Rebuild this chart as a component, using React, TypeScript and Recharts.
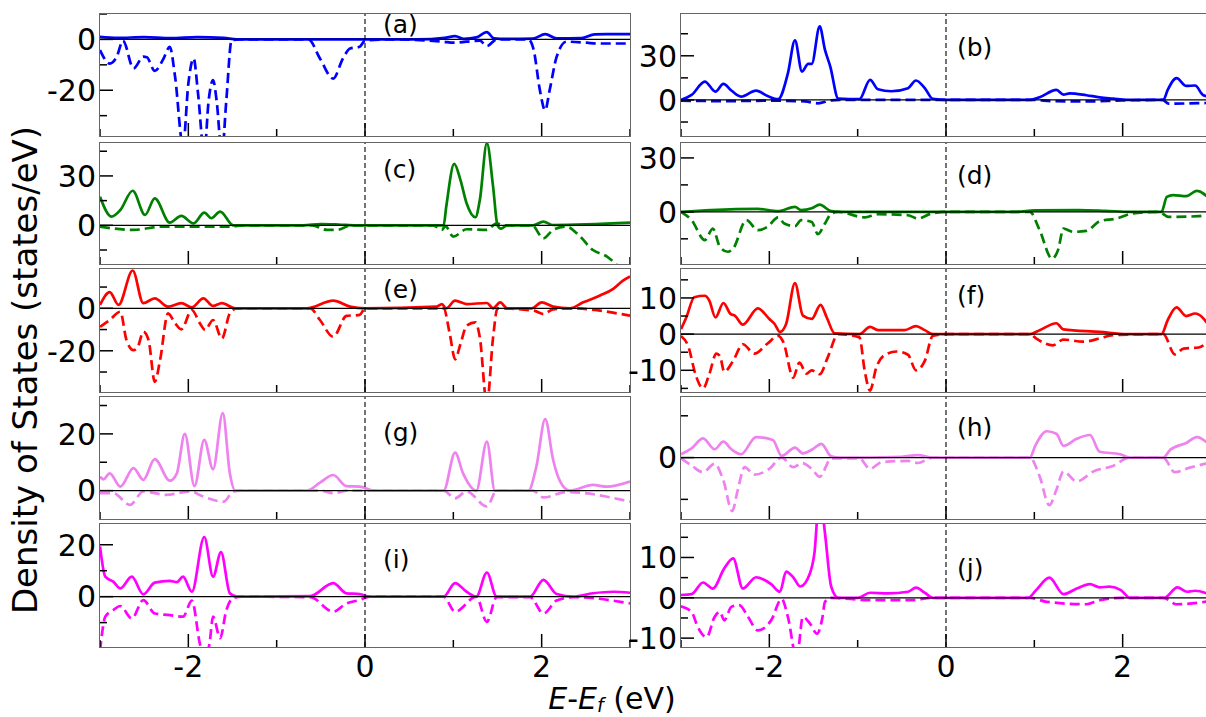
import React from "react";
import { LineChart, Line, XAxis, YAxis, ReferenceLine } from "recharts";

type Pt = [number, number];

// energy axis (eV)
const energyTicks = [-3, -2, -1, 0, 1, 2, 3];

// spin-up (solid) and spin-down (dashed) PDOS
const aUp: Pt[] = [[-3, 1], [-2.8, 0.6], [-2.5, 0.9], [-2.2, 0.5], [-1.9, 0.9], [-1.6, 0.6], [-1.45, 0], [0, 0], [0.6, 0], [0.9, 0.6], [1.02, 1.3], [1.12, 0.2], [1.26, 0.8], [1.38, 2.9], [1.46, 0.4], [1.6, 0.2], [1.9, 0.3], [2.04, 2.1], [2.17, 0.4], [2.45, 0.5], [2.6, 2], [3, 2.1]];
const aDn: Pt[] = [[-3, -4.2], [-2.89, -9.5], [-2.81, -6.8], [-2.74, -0.5], [-2.62, -11.4], [-2.51, -6.8], [-2.47, -7], [-2.38, -12.4], [-2.28, -7.5], [-2.21, -2.9], [-2.15, -14.7], [-2.06, -42], [-2.0, -17.4], [-1.94, -7.5], [-1.89, -21.3], [-1.82, -45], [-1.77, -24], [-1.72, -16], [-1.68, -24], [-1.62, -45], [-1.57, -24], [-1.51, -0.3], [-1.42, 0], [-0.64, 0], [-0.51, -7.5], [-0.36, -15.4], [-0.25, -7.5], [-0.17, -3.6], [-0.06, -2.9], [0, -0.5], [0.3, 0], [0.89, -0.9], [1.0, -1.3], [1.3, -0.5], [1.38, -2.6], [1.49, 0], [1.85, 0], [1.91, -4.2], [1.98, -20], [2.04, -27.9], [2.09, -20], [2.17, -6.8], [2.28, -0.9], [2.51, -1.3], [2.62, -1.6], [3, -1.6]];

const bUp: Pt[] = [[-3, 0], [-2.88, 3.4], [-2.73, 12.5], [-2.61, 5.7], [-2.52, 10.9], [-2.43, 6.4], [-2.32, 2.3], [-2.15, 6.4], [-2.02, 2.7], [-1.9, 0.5], [-1.79, 18], [-1.71, 40.5], [-1.63, 19.3], [-1.56, 24.5], [-1.52, 24.5], [-1.43, 50], [-1.37, 34], [-1.31, 22.7], [-1.22, 1], [-0.98, 0.5], [-0.86, 13.6], [-0.77, 7.3], [-0.62, 5.9], [-0.43, 8], [-0.34, 13.2], [-0.24, 8], [-0.15, 0.7], [0, 0], [0.95, 0], [1.06, 1.8], [1.25, 6.8], [1.33, 3.6], [1.4, 4.5], [1.59, 3.2], [1.74, 1.8], [1.89, 0.9], [2.05, 0], [2.46, 0], [2.51, 6.8], [2.61, 14.8], [2.72, 9.5], [2.82, 9.8], [2.91, 3.4], [3, 2]];
const bDn: Pt[] = [[-3, -0.5], [-2.5, -0.8], [-2, -0.5], [-1.6, -1], [-1.45, -2.3], [-1.3, -0.3], [-1.2, 0], [1, 0], [1.2, -0.8], [1.6, -1], [2, -0.3], [2.45, 0], [2.52, -2.5], [3, -2]];

const cUp: Pt[] = [[-3, 17.4], [-2.87, 5.3], [-2.77, 9.3], [-2.63, 21], [-2.49, 6.3], [-2.38, 16.4], [-2.21, 1.6], [-2.08, 5.7], [-1.94, 1.2], [-1.82, 7.7], [-1.74, 4.3], [-1.64, 8.3], [-1.49, 0], [-0.7, 0], [-0.5, 0.8], [-0.3, 0.5], [-0.1, 0], [0.89, 0], [0.92, 11.4], [1.01, 37.3], [1.08, 27.6], [1.15, 13.4], [1.25, 4.9], [1.3, 15.4], [1.38, 49.9], [1.45, 23.5], [1.5, 0], [1.54, -2], [1.61, 0], [1.9, 0], [2.02, 2.2], [2.13, 0.2], [3, 1.6]];
const cDn: Pt[] = [[-3, -0.8], [-2.62, -2.8], [-2.3, -0.8], [-1.5, -0.8], [-1.4, 0], [-0.6, 0], [-0.43, -2.8], [-0.32, -2.8], [-0.15, 0], [0.77, 0], [0.87, -2.8], [0.91, -0.5], [1.0, -6.9], [1.15, -2.4], [1.38, -2.8], [1.49, 1.2], [1.57, 0], [1.89, 0], [2.02, -7.9], [2.13, -2.8], [2.28, -0.8], [2.4, -4.9], [2.58, -15], [2.74, -19], [2.85, -24], [3, -32]];

const dUp: Pt[] = [[-3, 0], [-2.66, 1], [-2.13, 1.7], [-1.9, 0.4], [-1.71, 2.8], [-1.64, 1], [-1.52, 2], [-1.43, 4], [-1.3, 0.4], [-1.2, 0], [0.8, 0], [1.0, 0.8], [1.5, 1], [1.8, 0.6], [2.1, 0], [2.44, 0], [2.5, 8.3], [2.57, 9.3], [2.72, 8.7], [2.84, 11.7], [3, 6.5]];
const dDn: Pt[] = [[-3, 0], [-2.88, -4.6], [-2.73, -15.7], [-2.64, -9.3], [-2.56, -19.4], [-2.47, -22.2], [-2.41, -20.4], [-2.26, -4.6], [-2.13, -10.2], [-2.02, -8.3], [-1.9, -3.1], [-1.83, -6.5], [-1.71, -8], [-1.64, -4.6], [-1.52, -5.6], [-1.45, -12.4], [-1.37, -6.5], [-1.3, -1], [-1.22, 0], [-0.92, -3.1], [-0.77, -1.3], [-0.43, -1.9], [-0.32, -3.7], [-0.17, -1], [0, 0], [0.95, 0], [1.06, -10.2], [1.2, -26], [1.27, -21], [1.33, -9.3], [1.44, -11.1], [1.59, -10.6], [1.74, -5.2], [1.93, -3.7], [2.11, -0.9], [2.41, 0], [2.52, -2.8], [2.86, -2.4], [3, -1]];

const eUp: Pt[] = [[-3, 1.6], [-2.89, 7.6], [-2.79, 1.6], [-2.63, 17.8], [-2.51, 2.4], [-2.38, 4.7], [-2.23, 0.8], [-2.08, 2.4], [-1.96, 0.5], [-1.83, 4.7], [-1.72, 1.1], [-1.62, 2.4], [-1.47, 0], [-0.66, 0], [-0.36, 3.6], [-0.17, 0.8], [0, 0], [0.81, 0.8], [0.87, 2], [0.92, 0], [1.02, 3.6], [1.15, 2], [1.38, 2.5], [1.45, 0], [1.53, 2.8], [1.61, 0], [1.89, 0], [2.0, 2.8], [2.13, 0.8], [2.32, 0], [2.47, 2.8], [2.66, 6], [2.81, 9.1], [2.92, 13], [3, 15]];
const eDn: Pt[] = [[-3, -8.7], [-2.89, -5.5], [-2.77, -1.6], [-2.7, -15], [-2.62, -19.7], [-2.57, -18], [-2.51, -11], [-2.45, -15], [-2.38, -34.6], [-2.32, -24.4], [-2.23, -2.4], [-2.15, -7], [-2.08, -9.9], [-1.96, -0.8], [-1.87, -7], [-1.81, -10.2], [-1.72, -5.5], [-1.62, -14.2], [-1.53, -2.4], [-1.45, 0], [-0.62, 0], [-0.51, -5.5], [-0.36, -13.4], [-0.21, -3.6], [-0.06, -3.1], [0, 0], [0.89, 0], [0.96, -12.1], [1.02, -24], [1.08, -16.9], [1.15, -8.2], [1.25, -6.6], [1.3, -13.7], [1.38, -45], [1.45, -13.7], [1.5, 0], [1.91, -1.1], [2.02, -2.7], [2.13, -0.5], [2.32, 0], [3, -3.5]];

const fUp: Pt[] = [[-3, 1.4], [-2.94, 4.6], [-2.85, 10.2], [-2.73, 10.6], [-2.68, 9.3], [-2.61, 4.6], [-2.52, 8.6], [-2.44, 5.6], [-2.39, 5.1], [-2.3, 2.6], [-2.13, 7.1], [-2.0, 4.2], [-1.94, 2.8], [-1.88, 0.6], [-1.81, 2.8], [-1.71, 14.1], [-1.62, 5.1], [-1.52, 4.2], [-1.42, 8.1], [-1.35, 4.6], [-1.26, 0.2], [-0.98, 0], [-0.86, 2], [-0.77, 1.1], [-0.47, 1.1], [-0.34, 2.2], [-0.24, 1.1], [-0.15, 0], [0.95, 0], [1.06, 1.1], [1.25, 3], [1.33, 1.3], [1.74, 0.6], [2.05, 0], [2.44, 0], [2.51, 3.9], [2.61, 7.4], [2.72, 5], [2.82, 5.7], [3, 1.6]];
const fDn: Pt[] = [[-3, -0.5], [-2.92, -3.2], [-2.83, -11.6], [-2.75, -15], [-2.68, -11.1], [-2.6, -5.4], [-2.56, -6], [-2.51, -10.4], [-2.41, -7.4], [-2.3, -2.8], [-2.17, -5.4], [-2.02, -2.6], [-1.9, -0.5], [-1.84, -2.3], [-1.73, -12], [-1.66, -7.9], [-1.58, -10.9], [-1.52, -10], [-1.43, -11.1], [-1.34, -6.5], [-1.22, 0], [-0.98, -0.9], [-0.92, -10.2], [-0.86, -15.6], [-0.79, -9.3], [-0.69, -5.7], [-0.56, -4.8], [-0.43, -5.7], [-0.34, -10], [-0.24, -7.4], [-0.15, -0.5], [0, 0], [0.95, 0], [1.02, -1.2], [1.21, -3.1], [1.33, -1.5], [1.55, -2.1], [1.74, -1.2], [1.89, -0.3], [2.46, 0], [2.59, -5.6], [2.69, -4], [2.86, -3.7], [3, -1]];

const gUp: Pt[] = [[-3, 4.9], [-2.96, 4], [-2.89, 6.1], [-2.77, 1.4], [-2.62, 7.9], [-2.51, 3.8], [-2.38, 11.1], [-2.21, 3.5], [-2.13, 6.1], [-2.04, 20], [-1.93, 1.6], [-1.82, 17.9], [-1.72, 7.5], [-1.61, 27.3], [-1.53, 6.1], [-1.47, 0], [-0.66, 0], [-0.51, 2.8], [-0.36, 5.5], [-0.21, 1.6], [-0.06, 1.4], [0.1, 0], [0.89, 0], [1.02, 13.4], [1.11, 6.1], [1.26, 0], [1.38, 17.3], [1.47, 0], [1.85, 0], [1.94, 8.5], [2.04, 25.2], [2.13, 10.8], [2.21, 3.2], [2.32, 0], [2.58, 2], [2.74, 1.4], [3, 3.2]];
const gDn: Pt[] = [[-3, -0.9], [-2.85, -0.9], [-2.66, -5], [-2.51, -0.3], [-2.25, -1.5], [-1.98, -0.3], [-1.83, -2.1], [-1.6, -3.9], [-1.49, -0.3], [-1.4, 0], [-0.5, 0], [-0.36, -0.9], [-0.2, 0], [0.89, 0], [1.02, -2.7], [1.15, -0.3], [1.38, -5.6], [1.49, 0], [1.9, 0], [2.02, -2.4], [2.28, -0.5], [3, -3.9]];

const hUp: Pt[] = [[-3, 0.8], [-2.88, 2.2], [-2.75, 4.6], [-2.62, 2], [-2.52, 3.8], [-2.43, 2], [-2.32, 0.8], [-2.15, 4.9], [-1.96, 4.2], [-1.86, 0.4], [-1.71, 2.4], [-1.62, 1], [-1.51, 2], [-1.41, 3.3], [-1.3, 0.3], [-1.2, 0], [-0.5, 0.2], [-0.32, 0.6], [-0.15, 0], [0.95, 0], [1.01, 2.8], [1.14, 6.3], [1.25, 5.7], [1.33, 2.8], [1.48, 4.5], [1.63, 5.4], [1.74, 1.4], [1.97, 0.8], [2.08, 0], [2.46, 0], [2.54, 1.9], [2.72, 3.5], [2.84, 4.9], [3, 2.7]];
const hDn: Pt[] = [[-3, -0.2], [-2.88, -1.9], [-2.75, -3.5], [-2.62, -1.5], [-2.52, -5.5], [-2.42, -12.8], [-2.36, -8], [-2.28, -2.3], [-2.17, -4.1], [-2.0, -2.7], [-1.86, 0], [-1.73, -2.3], [-1.63, -1.3], [-1.52, -2.7], [-1.43, -4.6], [-1.3, -0.2], [-0.98, -0.2], [-0.86, -2.7], [-0.73, -1.1], [-0.43, -0.8], [-0.32, -1.3], [-0.15, 0], [0.95, 0], [1.06, -4.5], [1.17, -11.4], [1.25, -7.7], [1.33, -3.3], [1.48, -5.7], [1.67, -3.3], [1.89, -2], [2.08, 0], [2.46, 0], [2.59, -3.5], [2.76, -2.4], [3, -1.2]];

const iUp: Pt[] = [[-3, 19.4], [-2.94, 7.7], [-2.85, 5.8], [-2.77, 3.2], [-2.64, 7.7], [-2.51, 0.9], [-2.38, 5.4], [-2.21, 6.1], [-2.13, 5.6], [-2.06, 7.7], [-1.96, 1.9], [-1.82, 23], [-1.72, 7.7], [-1.63, 17.2], [-1.53, 1.3], [-1.45, 0], [-0.62, 0.2], [-0.36, 5.2], [-0.21, 1.3], [-0.06, 1], [0.05, 0], [0.89, 0], [1.02, 5.2], [1.15, 1.9], [1.26, 0], [1.38, 9.3], [1.49, 0], [1.87, 0], [2.02, 6.5], [2.17, 1], [2.36, 0], [2.58, 1.3], [2.81, 1.9], [3, 1.5]];
const iDn: Pt[] = [[-3, -21], [-2.94, -7.7], [-2.85, -5.2], [-2.77, -3.6], [-2.64, -8.4], [-2.51, -1.3], [-2.38, -6.5], [-2.21, -7.1], [-2.06, -7.7], [-1.96, -1.5], [-1.87, -18], [-1.82, -24], [-1.76, -18], [-1.72, -7.7], [-1.64, -16], [-1.57, -5.2], [-1.49, -0.5], [-1.4, 0], [-0.62, -0.2], [-0.36, -5.8], [-0.21, -2.6], [-0.06, -1.3], [0.05, 0], [0.89, 0], [1.02, -5.8], [1.26, 0], [1.38, -9.7], [1.49, -0.2], [1.87, -0.2], [2.02, -6.5], [2.17, -1.5], [2.36, -0.2], [3, -2.6]];

const jUp: Pt[] = [[-3, 0.7], [-2.88, 0.9], [-2.75, 3.8], [-2.64, 2.3], [-2.51, 7.3], [-2.41, 9.8], [-2.3, 2.3], [-2.15, 5.1], [-1.98, 3.4], [-1.88, 1.5], [-1.81, 6.5], [-1.73, 5.1], [-1.65, 2.8], [-1.54, 6.1], [-1.49, 11], [-1.43, 26], [-1.37, 16], [-1.3, 2.8], [-1.22, 0], [-1.0, 0], [-0.86, 1.25], [-0.66, 1.1], [-0.43, 1.5], [-0.34, 2.5], [-0.24, 1.25], [-0.15, 0], [0.93, 0], [1.02, 1.9], [1.17, 5], [1.33, 0.9], [1.48, 2.3], [1.63, 3.4], [1.74, 2.6], [1.85, 2.75], [1.98, 1.9], [2.08, 0], [2.47, 0], [2.62, 2.6], [2.73, 1.5], [2.82, 1.75], [3, 0.7]];
const jDn: Pt[] = [[-3, -2.1], [-2.88, -3.5], [-2.81, -7.25], [-2.71, -9.75], [-2.62, -4.75], [-2.56, -3.5], [-2.51, -5.6], [-2.43, -2.25], [-2.34, -1.8], [-2.24, -4.75], [-2.13, -8.1], [-1.98, -5.6], [-1.86, -0.3], [-1.79, -4.75], [-1.69, -15], [-1.62, -4.75], [-1.54, -6.4], [-1.46, -8.9], [-1.4, -5], [-1.37, -1], [-1.3, 0], [-0.86, -0.6], [-0.39, -0.6], [-0.15, 0], [0.95, 0], [1.14, -1], [1.59, -1.6], [1.74, -0.6], [2.0, 0], [2.46, 0], [2.61, -1.6], [3, -0.8]];

// y ticks per panel and which of them carry a label
const ticksA = [-30, -20, -10, 0, 10];
const labelsA = [-20, 0];
const ticksB = [-15, 0, 15, 30, 45];
const labelsB = [0, 30];
const ticksC = [-15, 0, 15, 30, 45];
const labelsC = [0, 30];
const ticksD = [-15, 0, 15, 30];
const labelsD = [0, 30];
const ticksE = [-30, -20, -10, 0, 10];
const labelsE = [-20, 0];
const ticksF = [-15, -10, -5, 0, 5, 10, 15];
const labelsF = [-10, 0, 10];
const ticksG = [0, 10, 20, 30];
const labelsG = [0, 20];
const ticksH = [-10, 0, 10];
const labelsH = [0];
const ticksI = [-10, 0, 10, 20];
const labelsI = [0, 20];
const ticksJ = [-10, -5, 0, 5, 10, 15];
const labelsJ = [-10, 0, 10];

const FONT = "DejaVu Sans";
const COL_LEFT = [100, 681];
const PLOT_W = 530;
const ROW_TOP = [14, 143, 269, 397, 524];
const ROW_H = [122, 121, 123, 122, 123];
const AXIS_W = 90;
const AXIS_H = 40;
const PAD_TOP = 14;

const panels = [
  { tag: "(a)", col: 0, row: 0, domain: [-38, 10], ticks: ticksA, labels: labelsA, color: "#0000ff", up: aUp, dn: aDn, tagX: 383, tagY: 33 },
  { tag: "(b)", col: 1, row: 0, domain: [-24.5, 58.4], ticks: ticksB, labels: labelsB, color: "#0000ff", up: bUp, dn: bDn, tagX: 957, tagY: 56 },
  { tag: "(c)", col: 0, row: 1, domain: [-23.5, 50], ticks: ticksC, labels: labelsC, color: "#008000", up: cUp, dn: cDn, tagX: 383, tagY: 178 },
  { tag: "(d)", col: 1, row: 1, domain: [-29, 38.3], ticks: ticksD, labels: labelsD, color: "#008000", up: dUp, dn: dDn, tagX: 957, tagY: 184 },
  { tag: "(e)", col: 0, row: 2, domain: [-39.4, 18.5], ticks: ticksE, labels: labelsE, color: "#ff0000", up: eUp, dn: eDn, tagX: 383, tagY: 298 },
  { tag: "(f)", col: 1, row: 2, domain: [-16, 18], ticks: ticksF, labels: labelsF, color: "#ff0000", up: fUp, dn: fDn, tagX: 957, tagY: 304 },
  { tag: "(g)", col: 0, row: 3, domain: [-10, 33], ticks: ticksG, labels: labelsG, color: "#ee82ee", up: gUp, dn: gDn, tagX: 383, tagY: 441 },
  { tag: "(h)", col: 1, row: 3, domain: [-14.7, 14.5], ticks: ticksH, labels: labelsH, color: "#ee82ee", up: hUp, dn: hDn, tagX: 957, tagY: 436 },
  { tag: "(i)", col: 0, row: 4, domain: [-19.4, 28], ticks: ticksI, labels: labelsI, color: "#ff00ff", up: iUp, dn: iDn, tagX: 383, tagY: 568 },
  { tag: "(j)", col: 1, row: 4, domain: [-12.2, 18.3], ticks: ticksJ, labels: labelsJ, color: "#ff00ff", up: jUp, dn: jDn, tagX: 957, tagY: 577 },
];

const toRows = (pts: Pt[]) => pts.map(([x, y]) => ({ x, y }));

const makeYTick = (labels: number[]) => (props: any) => {
  const { x, y, payload } = props;
  const v = payload.value;
  const major = labels.includes(v);
  return (
    <g>
      <line x1={x} x2={x + (major ? 13 : 7)} y1={y} y2={y} stroke="#000" strokeWidth={1.5} />
      {major && (
        <text x={x - 4} y={y} dy="0.36em" textAnchor="end" fontSize={30} fontFamily={FONT} fill="#000">
          {String(v)}
        </text>
      )}
    </g>
  );
};

const makeXTick = (showLabels: boolean) => (props: any) => {
  const { x, y, payload } = props;
  const v = payload.value;
  const major = v % 2 === 0;
  return (
    <g>
      <line x1={x} x2={x} y1={y} y2={y - (major ? 13 : 7)} stroke="#000" strokeWidth={1.5} />
      {showLabels && major && (
        <text x={x} y={y + 30} textAnchor="middle" fontSize={30} fontFamily={FONT} fill="#000">
          {String(v)}
        </text>
      )}
    </g>
  );
};

function Panel({ p }: { p: (typeof panels)[number] }) {
  const left = COL_LEFT[p.col];
  const top = ROW_TOP[p.row];
  const h = ROW_H[p.row];
  const bottomRow = p.row === 4;
  return (
    <>
      <div style={{ position: "absolute", left: left - AXIS_W, top: top - PAD_TOP }}>
        <LineChart
          width={PLOT_W + AXIS_W}
          height={h + AXIS_H + PAD_TOP}
          margin={{ top: PAD_TOP, right: 0, bottom: 0, left: 0 }}
        >
          <XAxis
            type="number"
            dataKey="x"
            domain={[-3, 3]}
            ticks={energyTicks}
            interval={0}
            allowDataOverflow
            height={AXIS_H}
            axisLine={false}
            tickLine={false}
            tickSize={0}
            tickMargin={0}
            tick={makeXTick(bottomRow)}
          />
          <YAxis
            type="number"
            domain={p.domain}
            ticks={p.ticks}
            interval={0}
            allowDataOverflow
            width={AXIS_W}
            axisLine={false}
            tickLine={false}
            tickSize={0}
            tickMargin={0}
            tick={makeYTick(p.labels)}
          />
          <Line
            data={toRows(p.dn)}
            dataKey="y"
            type="monotone"
            stroke={p.color}
            strokeWidth={2.7}
            strokeDasharray="10 5"
            dot={false}
            activeDot={false}
            isAnimationActive={false}
          />
          <Line
            data={toRows(p.up)}
            dataKey="y"
            type="monotone"
            stroke={p.color}
            strokeWidth={2.7}
            dot={false}
            activeDot={false}
            isAnimationActive={false}
          />
          <ReferenceLine y={0} stroke="#000" strokeWidth={1.3} />
          <ReferenceLine x={0} stroke="#000" strokeWidth={1.1} strokeDasharray="5 3" />
        </LineChart>
      </div>
      <div
        style={{
          position: "absolute",
          left: left - 1,
          top: top - 1,
          width: PLOT_W + 2,
          height: h + 2,
          border: "1.5px solid #666",
          boxSizing: "border-box",
          pointerEvents: "none",
        }}
      />
    </>
  );
}

export default function App() {
  return (
    <div
      style={{
        position: "absolute",
        left: 0,
        top: 0,
        width: 1206,
        height: 717,
        overflow: "hidden",
        background: "#fff",
      }}
    >
      {panels.map((p) => (
        <Panel key={p.tag} p={p} />
      ))}
      <svg
        width={1206}
        height={717}
        style={{ position: "absolute", left: 0, top: 0, pointerEvents: "none" }}
        fontFamily={FONT}
      >
        {panels.map((p) => (
          <text key={p.tag} x={p.tagX} y={p.tagY} fontSize={25} fill="#000">
            {p.tag}
          </text>
        ))}
        <text transform="translate(37,370) rotate(-90)" textAnchor="middle" fontSize={34} fill="#000">
          Density of States (states/eV)
        </text>
        <text x={612} y={709} textAnchor="middle" fontSize={30} fill="#000">
          <tspan fontStyle="italic">E</tspan>
          <tspan>-</tspan>
          <tspan fontStyle="italic">E</tspan>
          <tspan fontStyle="italic" fontSize={19} dy={3}>f</tspan>
          <tspan dy={-3}> (eV)</tspan>
        </text>
      </svg>
    </div>
  );
}
